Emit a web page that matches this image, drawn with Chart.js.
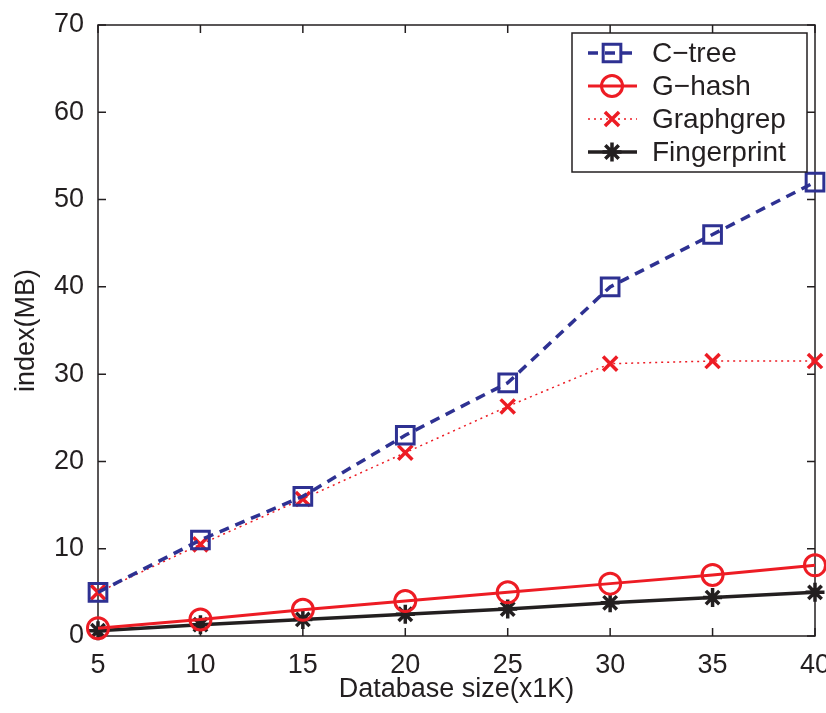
<!DOCTYPE html>
<html>
<head>
<meta charset="utf-8">
<script src="https://cdn.jsdelivr.net/npm/chart.js@4/dist/chart.umd.min.js"></script>
<style>
  html, body { margin: 0; padding: 0; background: #fff; overflow: hidden; }
  #wrap { width: 826px; height: 713px; }
  canvas { display: block; }
</style>
</head>
<body>
<div id="wrap"><canvas id="chart1" width="826" height="713"></canvas></div>
<script>
var sizes = [5, 10, 15, 20, 25, 30, 35, 40];
var ctree = [5, 11, 16, 23, 29, 40, 46, 52];
var ghash = [0.9, 1.9, 3.0, 4.0, 5.0, 6.0, 7.0, 8.1];
var graphgrep = [5, 10.5, 15.7, 21, 26.3, 31.2, 31.5, 31.5];
var fingerprint = [0.6, 1.3, 1.9, 2.5, 3.1, 3.8, 4.4, 5.0];

var BLUE = '#2e3192';
var RED = '#ed1c24';
var BLACK = '#231f20';
var FONT = 'Liberation Sans, Arial, Helvetica, sans-serif';

function pts(ys) {
  return sizes.map(function (x, i) { return { x: x, y: ys[i] }; });
}

function noPad() {
  return { left: 0, top: 0, right: 0, bottom: 0 };
}

// matlab style box with inward ticks
var boxPlugin = {
  id: 'box',
  beforeDatasetsDraw: function (chart) {
    var c = chart.ctx, a = chart.chartArea;
    var xs = chart.scales.x, ys = chart.scales.y;
    c.save();
    c.strokeStyle = BLACK;
    c.lineWidth = 1.5;
    c.strokeRect(a.left, a.top, a.right - a.left, a.bottom - a.top);
    c.beginPath();
    xs.ticks.forEach(function (t) {
      var px = xs.getPixelForValue(t.value);
      c.moveTo(px, a.bottom); c.lineTo(px, a.bottom - 8);
      c.moveTo(px, a.top); c.lineTo(px, a.top + 8);
    });
    ys.ticks.forEach(function (t) {
      var py = ys.getPixelForValue(t.value);
      c.moveTo(a.left, py); c.lineTo(a.left + 8, py);
      c.moveTo(a.right, py); c.lineTo(a.right - 8, py);
    });
    c.stroke();
    c.restore();
  }
};

// legend drawn inside the axes, top right
var legendPlugin = {
  id: 'boxLegend',
  afterDraw: function (chart) {
    var c = chart.ctx;
    var bx = 572, by = 33, bw = 235, bh = 139;
    c.save();
    c.fillStyle = '#fff';
    c.fillRect(bx, by, bw, bh);
    c.strokeStyle = BLACK;
    c.lineWidth = 1.5;
    c.strokeRect(bx, by, bw, bh);
    chart.data.datasets.forEach(function (ds, i) {
      var y = 53 + i * 33;
      c.save();
      c.strokeStyle = ds.borderColor;
      c.lineWidth = ds.borderWidth;
      c.setLineDash(ds.borderDash || []);
      c.beginPath();
      c.moveTo(588, y); c.lineTo(637, y);
      c.stroke();
      c.restore();
      c.strokeStyle = ds.pointBorderColor;
      c.fillStyle = ds.pointBackgroundColor;
      c.lineWidth = ds.pointBorderWidth;
      Chart.helpers.drawPoint(c, {
        pointStyle: ds.pointStyle,
        radius: ds.pointRadius,
        rotation: 0,
        borderWidth: ds.pointBorderWidth
      }, 612, y);
      c.fillStyle = BLACK;
      c.font = '28px ' + FONT;
      c.textBaseline = 'middle';
      c.fillText(ds.label, 652, y + 1);
    });
    c.restore();
  }
};

var ctx1 = document.getElementById('chart1').getContext('2d');
var chart1 = new Chart(ctx1, {
  type: 'line',
  data: {
    datasets: [{
      label: 'C\u2212tree',
      data: pts(ctree),
      borderColor: BLUE,
      borderWidth: 3.5,
      borderDash: [10, 7],
      pointStyle: 'rect',
      pointRadius: 12.5,
      pointBorderWidth: 3,
      pointBorderColor: BLUE,
      pointBackgroundColor: 'rgba(0,0,0,0)',
      clip: false
    }, {
      label: 'G\u2212hash',
      data: pts(ghash),
      borderColor: RED,
      borderWidth: 3,
      pointStyle: 'circle',
      pointRadius: 10.5,
      pointBorderWidth: 3,
      pointBorderColor: RED,
      pointBackgroundColor: 'rgba(0,0,0,0)',
      clip: false
    }, {
      label: 'Graphgrep',
      data: pts(graphgrep),
      borderColor: RED,
      borderWidth: 1.5,
      borderDash: [2, 4],
      pointStyle: 'crossRot',
      pointRadius: 10,
      pointBorderWidth: 3.5,
      pointBorderColor: RED,
      pointBackgroundColor: RED,
      clip: false
    }, {
      label: 'Fingerprint',
      data: pts(fingerprint),
      borderColor: BLACK,
      borderWidth: 3.5,
      pointStyle: 'star',
      pointRadius: 9.5,
      pointBorderWidth: 3.5,
      pointBorderColor: BLACK,
      pointBackgroundColor: BLACK,
      clip: false
    }]
  },
  plugins: [boxPlugin, legendPlugin],
  options: {
    responsive: false,
    animation: false,
    layout: { autoPadding: false, padding: { left: 0, right: 11, top: 25, bottom: 0 } },
    elements: { line: { tension: 0 } },
    plugins: {
      legend: { display: false },
      tooltip: { enabled: false }
    },
    scales: {
      x: {
        type: 'linear',
        min: 5,
        max: 40,
        border: { display: false },
        grid: { display: false },
        ticks: {
          stepSize: 5,
          color: BLACK,
          padding: 5,
          font: { family: FONT, size: 27 }
        },
        title: {
          display: true,
          text: 'Database size(x1K)',
          color: BLACK,
          padding: { top: 0, bottom: 7 },
          font: { family: FONT, size: 27 }
        },
        afterFit: function (s) {
          s.height = 77;
          s.paddingLeft = 0;
          s.paddingRight = 0;
          s.getPadding = noPad;
        }
      },
      y: {
        min: 0,
        max: 70,
        border: { display: false },
        grid: { display: false },
        ticks: {
          stepSize: 10,
          color: BLACK,
          padding: 6,
          font: { family: FONT, size: 27 }
        },
        title: {
          display: true,
          text: 'index(MB)',
          color: BLACK,
          padding: { top: 10, bottom: 0 },
          font: { family: FONT, size: 27 }
        },
        afterFit: function (s) {
          s.width = 98;
          s.paddingTop = 0;
          s.paddingBottom = 0;
          s.getPadding = noPad;
        }
      }
    }
  }
});
</script>
</body>
</html>
